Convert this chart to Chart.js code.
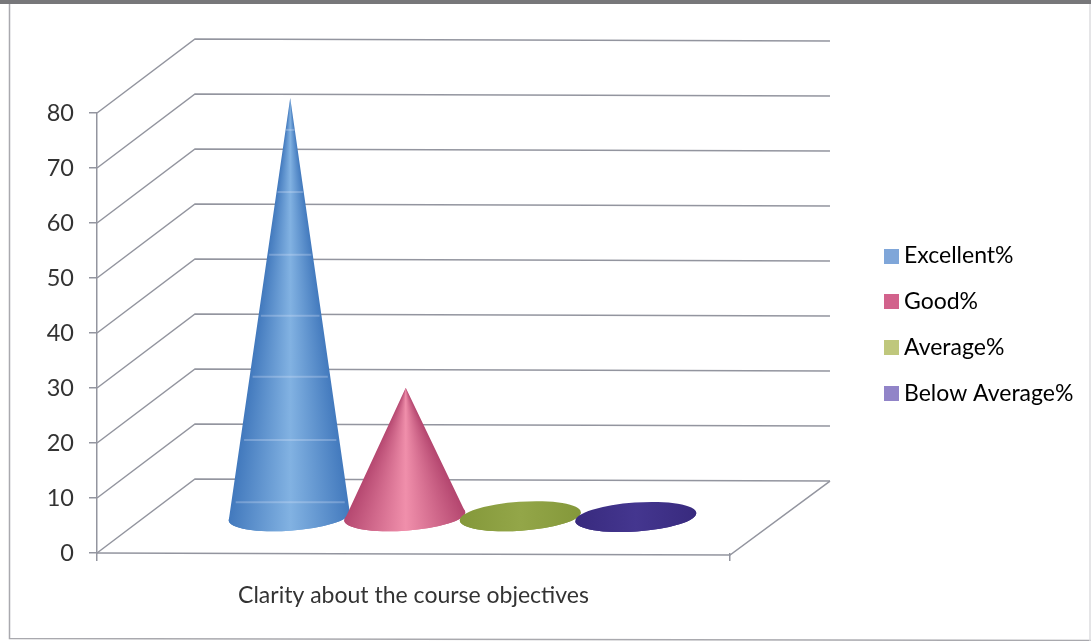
<!DOCTYPE html>
<html>
<head>
<meta charset="utf-8">
<style>
  html, body { margin: 0; padding: 0; background: #fff; }
  #wrap { position: relative; width: 1091px; height: 641px; }
</style>
<script src="https://cdn.jsdelivr.net/npm/chart.js"></script>
</head>
<body>
<div id="wrap"><canvas id="chart" width="1091" height="641"></canvas></div>
<script>
// values
const categories = ['Clarity about the course objectives'];
const seriesNames = ['Excellent%', 'Good%', 'Average%', 'Below Average%'];
const seriesValues = [76, 23.3, 1, 0];
const yTicks = [0, 10, 20, 30, 40, 50, 60, 70, 80];

// colours: legend swatch and the cone shading (edge, middle)
const swatchColors = ['#7fa6d9', '#d2628c', '#bfc77c', '#9184c8'];
const edgeColors = ['#4279bd', '#b4466f', '#84983a', '#382a7e'];
const midColors = ['#82b2e2', '#f08fab', '#93a648', '#44368f'];

// light rings across the blue cone, in axis units
const ringValues = [2.5, 13.8, 25.3, 36.4, 47.5, 58.9, 70.2];

const gridColor = '#93959f';
const textColor = '#333333';
const fontName = 'Lato';

// the 3d box: how far the back wall sits from the front axis
const depthX = 98;
const depthY = -74;
const tilt = 0.0032; // the scan is a little crooked

function makeSwatch(color) {
  const c = document.createElement('canvas');
  c.width = 15;
  c.height = 15;
  const g = c.getContext('2d');
  g.fillStyle = color;
  g.fillRect(0, 0, 15, 15);
  return c;
}

const box3d = {
  id: 'box3d',
  beforeLayout(chart) {
    // keep the plot's right edge where the front axis ends
    const lg = chart.legend;
    if (!lg._fitPatched) {
      const fit = lg.fit;
      lg.fit = function () {
        fit.call(this);
        this.width = 361;
      };
      lg._fitPatched = true;
    }
  },
  afterLayout(chart) {
    // legend sits away from the plot, the back wall runs into the gap
    const lg = chart.legend;
    lg.left = 866.8;
    lg.right = 1091;
    lg.top = 221.8;
    lg.bottom = 440;
  },
  beforeDatasetsDraw(chart) {
    const ctx = chart.ctx;
    const x = chart.scales.x;
    const y = chart.scales.y;
    const l = x.left;
    const r = x.right;
    const w = r - l;
    ctx.save();
    ctx.strokeStyle = gridColor;
    ctx.lineWidth = 1.5;
    yTicks.forEach(v => {
      const py = y.getPixelForValue(v);
      ctx.beginPath();
      ctx.moveTo(l, py);
      ctx.lineTo(l + depthX, py + depthY);
      ctx.lineTo(r + depthX + 2, py + depthY + w * tilt);
      ctx.stroke();
    });
    // floor
    const py0 = y.getPixelForValue(0);
    ctx.beginPath();
    ctx.moveTo(l, py0);
    ctx.lineTo(r, py0 + w * tilt);
    ctx.lineTo(r + depthX + 2, py0 + depthY + w * tilt);
    ctx.stroke();
    ctx.restore();
  },
  afterDatasetsDraw(chart) {
    const y = chart.scales.y;
    seriesValues.forEach((v, i) => {
      const bar = chart.getDatasetMeta(i).data[0];
      drawCone(chart.ctx, bar, y, i);
    });
  },
  beforeDraw(chart) {
    // frame of the scanned page
    const ctx = chart.ctx;
    ctx.save();
    ctx.fillStyle = '#fff';
    ctx.fillRect(0, 0, chart.width, chart.height);
    ctx.fillStyle = '#77777a';
    ctx.fillRect(0, 0, chart.width, 4);
    ctx.strokeStyle = '#a9a9ae';
    ctx.lineWidth = 1.5;
    ctx.beginPath();
    ctx.moveTo(9.5, 4);
    ctx.lineTo(9.5, 638.5);
    ctx.lineTo(1091, 640.5);
    ctx.stroke();
    ctx.beginPath();
    ctx.moveTo(1090, 4);
    ctx.lineTo(1090, 641);
    ctx.strokeStyle = '#dcdcdf';
    ctx.stroke();
    ctx.restore();
  }
};

function drawCone(ctx, bar, y, i) {
  const cx = bar.x + depthX / 2;
  const cy = bar.base + depthY / 2 + 1;
  const ax = cx + 1;
  const ay = bar.y + depthY / 2;
  const rx = bar.width / 2 * 1.05;
  const ry = 14.5;
  const rot = -4 * Math.PI / 180;
  const cos = Math.cos(rot);
  const sin = Math.sin(rot);
  const h = cy - ay;

  let fill;
  if (h > ry * 2) {
    // shading runs out from the tip so it narrows with the cone
    const a = Math.atan(rx / h);
    const g = ctx.createConicGradient(Math.PI / 2 - a, ax, ay);
    const span = 2 * a / (2 * Math.PI);
    g.addColorStop(0, edgeColors[i]);
    g.addColorStop(span * 0.5, midColors[i]);
    g.addColorStop(span, edgeColors[i]);
    g.addColorStop(1, edgeColors[i]);
    fill = g;
  } else {
    const g = ctx.createLinearGradient(cx - rx, 0, cx + rx, 0);
    g.addColorStop(0, edgeColors[i]);
    g.addColorStop(0.5, midColors[i]);
    g.addColorStop(1, edgeColors[i]);
    fill = g;
  }

  ctx.save();
  ctx.fillStyle = fill;
  ctx.beginPath();
  ctx.moveTo(ax, ay);
  ctx.lineTo(cx - rx * cos, cy - rx * sin);
  ctx.ellipse(cx, cy, rx, ry, rot, Math.PI, 0, true);
  ctx.closePath();
  ctx.fill();
  ctx.beginPath();
  ctx.ellipse(cx, cy, rx, ry, rot, 0, Math.PI * 2);
  ctx.fill();

  // faint rings show on the blue cone only
  if (i === 0) {
    ctx.strokeStyle = 'rgba(225,232,250,0.28)';
    ctx.lineWidth = 2;
    ringValues.forEach(v => {
      const ry0 = y.getPixelForValue(v) + depthY / 2;
      if (ry0 < ay + 8) return;
      const half = rx * (ry0 - ay) / h * 0.93;
      ctx.beginPath();
      ctx.moveTo(ax - half, ry0);
      ctx.lineTo(ax + half, ry0);
      ctx.stroke();
    });
  }
  ctx.restore();
}

const chartCtx = document.getElementById('chart').getContext('2d');
chartCtx.letterSpacing = '0.1px'; // also stops the Lato "ti" ligature

new Chart(chartCtx, {
  type: 'bar',
  plugins: [box3d],
  data: {
    labels: categories,
    datasets: seriesNames.map((name, i) => ({
      label: name,
      data: [seriesValues[i]],
      backgroundColor: 'rgba(0,0,0,0)',
      borderWidth: 0,
      categoryPercentage: 0.73,
      barPercentage: 1
    }))
  },
  options: {
    responsive: false,
    animation: false,
    layout: { padding: { top: 113, right: 0, left: 0, bottom: 0 } },
    plugins: {
      title: { display: false },
      tooltip: { enabled: false },
      legend: {
        position: 'right',
        align: 'start',
        onClick: null,
        labels: {
          color: textColor,
          font: { family: fontName, size: 23 },
          usePointStyle: true,
          pointStyleWidth: 3,
          boxHeight: 15,
          padding: 22.7,
          generateLabels() {
            return seriesNames.map((name, i) => ({
              text: name,
              fillStyle: swatchColors[i],
              strokeStyle: swatchColors[i],
              lineWidth: 0,
              pointStyle: makeSwatch(swatchColors[i]),
              datasetIndex: i,
              hidden: false
            }));
          }
        }
      }
    },
    scales: {
      x: {
        offset: true,
        afterFit(scale) { scale.height = 88; },
        grid: {
          offset: true,
          drawOnChartArea: false,
          color: gridColor,
          tickLength: 8,
          lineWidth: 1.5
        },
        border: { display: false },
        ticks: {
          color: textColor,
          padding: 21,
          font: { family: fontName, size: 23 }
        }
      },
      y: {
        min: 0,
        max: 80,
        afterFit(scale) { scale.width = 97; },
        afterBuildTicks(scale) { scale.ticks = yTicks.map(v => ({ value: v })); },
        grid: {
          drawOnChartArea: false,
          color: gridColor,
          tickLength: 8,
          lineWidth: 1.5
        },
        border: { color: gridColor, width: 1.5 },
        ticks: {
          color: textColor,
          padding: 15,
          font: { family: fontName, size: 23.5 }
        }
      }
    }
  }
});
</script>
</body>
</html>
